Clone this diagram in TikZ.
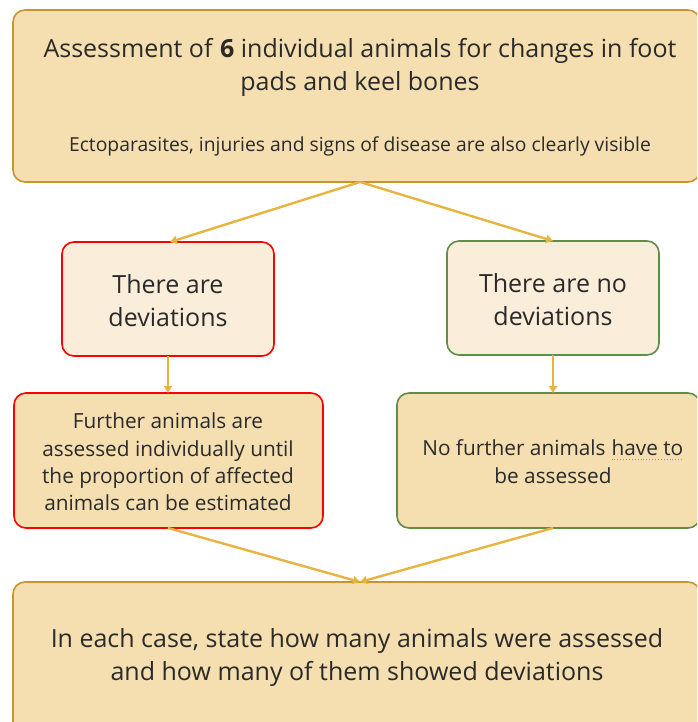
\documentclass[tikz,border=0pt]{standalone}
\usepackage{fontspec}
\setmainfont{Open Sans}
\usetikzlibrary{arrows.meta}
\definecolor{fillA}{HTML}{F5DFB0}
\definecolor{fillB}{HTML}{FAEEDA}
\definecolor{goldB}{HTML}{C9962B}
\definecolor{redB}{HTML}{FF0000}
\definecolor{greenB}{HTML}{5E8F48}
\definecolor{arr}{HTML}{E8B440}
\definecolor{txt}{HTML}{2A2A2A}
\newcommand{\mydotul}[1]{\tikz[baseline=(u.base)]{\node[inner sep=0pt,outer sep=0pt](u){#1};\draw[draw=goldB,line width=0.9pt,dotted] ([yshift=-3pt]u.south west) -- ([yshift=-3pt]u.south east);}}
\tikzset{
  box/.style={rounded corners=12pt, line width=1.6pt, text=txt, align=center},
  conn/.style={draw=arr, line width=2.4pt, -{Triangle[length=7pt,width=8pt]}}
}
\begin{document}
\begin{tikzpicture}[x=1pt,y=-1pt]
\useasboundingbox (0,0) rectangle (697,722);
\clip (0,0) rectangle (697,722);
% top
\draw[box, fill=fillA, draw=goldB] (13,10) rectangle (700,182);
\node[text=txt, align=center, font=\fontsize{25}{33}\selectfont] (t1) at (360,67) {Assessment of \textbf{6} individual animals for changes in foot\\pads and keel bones};
\node[text=txt, font=\fontsize{19.3}{22}\selectfont] (t2) at (360,146) {Ectoparasites, injuries and signs of disease are also clearly visible};
\coordinate (topb) at (360,182);
% decisions
\draw[box, fill=fillB, draw=redB] (62,242) rectangle (274,356);
\node[text=txt, align=center, font=\fontsize{25}{33}\selectfont] (l1) at (168,301) {There are\\deviations};
\draw[box, fill=fillB, draw=greenB] (447,241) rectangle (659,355);
\node[text=txt, align=center, font=\fontsize{25}{33}\selectfont] (r1) at (553,300) {There are no\\deviations};
% lower
\draw[box, fill=fillA, draw=redB] (14,393) rectangle (323,528);
\node[text=txt, align=center, font=\fontsize{20.8}{27.3}\selectfont] (l2) at (168,462) {Further animals are\\assessed individually until\\the proportion of affected\\animals can be estimated};
\draw[box, fill=fillA, draw=greenB] (397,393) rectangle (700,528);
\node[text=txt, align=center, font=\fontsize{20.8}{28}\selectfont] (r2) at (553,462) {No further animals \mydotul{have to}\\be assessed};
% bottom
\draw[box, fill=fillA, draw=goldB] (13,582) rectangle (700,740);
\node[text=txt, align=center, font=\fontsize{25}{33}\selectfont] (b1) at (357,657) {In each case, state how many animals were assessed\\and how many of them showed deviations};
% connectors
\coordinate (lt) at (170,242);
\coordinate (rt) at (553,241);
\coordinate (lb) at (168,356);
\coordinate (lt2) at (168,393);
\coordinate (rb) at (553,355);
\coordinate (rt2) at (553,393);
\coordinate (lb2) at (168,528);
\coordinate (rb2) at (553,528);
\coordinate (bt) at (360,582);
\draw[conn] (topb) -- (lt);
\draw[conn] (topb) -- (rt);
\draw[conn] (lb) -- (lt2);
\draw[conn] (rb) -- (rt2);
\draw[conn] (lb2) -- (bt);
\draw[conn] (rb2) -- (bt);
\end{tikzpicture}
\end{document}
